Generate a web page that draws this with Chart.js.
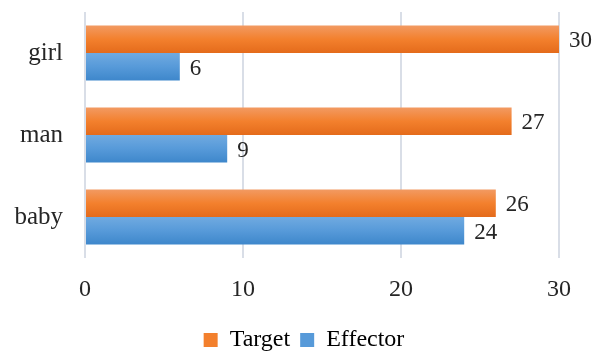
<!DOCTYPE html>
<html>
<head>
<meta charset="utf-8">
<script src="https://cdn.jsdelivr.net/npm/chart.js@4/dist/chart.umd.min.js"></script>
<style>
  html, body { margin: 0; padding: 0; background: #fff; }
  #wrap { width: 592px; height: 354px; }
</style>
</head>
<body>
<div id="wrap"><canvas id="grafico"></canvas></div>
<script>
const categorias = ['girl', 'man', 'baby'];
const target = [30, 27, 26];
const effector = [6, 9, 24];
const ticksX = [0, 10, 20, 30];

const FONTE = '"Liberation Serif", "DejaVu Serif", serif';
const OCUPACAO = 0.67;

// degradê vertical por barra (claro em cima, escuro embaixo)
function degrade(ctx, cores, serie) {
    const chart = ctx.chart;
    const y = chart.scales.y;
    if (!y || ctx.type !== 'data') return cores[1];
    const centro = y.getPixelForValue(ctx.dataIndex);
    const h = (y.getPixelForValue(1) - y.getPixelForValue(0)) * OCUPACAO / 2;
    const topo = serie === 0 ? centro - h : centro;
    const g = chart.ctx.createLinearGradient(0, topo, 0, topo + h);
    g.addColorStop(0, cores[0]);
    g.addColorStop(0.5, cores[1]);
    g.addColorStop(1, cores[2]);
    return g;
}

const coresLaranja = ['#F29A62', '#F3802D', '#E46B1B'];
const coresAzul = ['#70AAE0', '#579AD9', '#3E87CB'];

// rótulos de valor na ponta de cada barra
const rotulos = {
    id: 'rotulos',
    afterDatasetsDraw(chart) {
        const c = chart.ctx;
        c.save();
        c.font = '23px ' + FONTE;
        c.fillStyle = '#262626';
        c.textAlign = 'left';
        c.textBaseline = 'middle';
        chart.data.datasets.forEach((ds, i) => {
            chart.getDatasetMeta(i).data.forEach((bar, j) => {
                c.fillText(ds.data[j], bar.x + 10, bar.y + 2);
            });
        });
        c.restore();
    }
};

// centraliza a legenda na largura toda do canvas
const legendaCentro = {
    id: 'legendaCentro',
    afterLayout(chart) {
        const lg = chart.legend;
        if (!lg) return;
        const desloc = (chart.width - (lg.left + lg.right)) / 2 + 8;
        lg.left += desloc;
        lg.right += desloc;
    }
};

new Chart(document.getElementById('grafico').getContext('2d'), {
    type: 'bar',
    data: {
        labels: categorias,
        datasets: [
            {
                label: 'Target',
                data: target,
                barPercentage: 1,
                categoryPercentage: OCUPACAO,
                backgroundColor: ctx => degrade(ctx, coresLaranja, 0)
            },
            {
                label: 'Effector',
                data: effector,
                barPercentage: 1,
                categoryPercentage: OCUPACAO,
                backgroundColor: ctx => degrade(ctx, coresAzul, 1)
            }
        ]
    },
    options: {
        indexAxis: 'y',
        responsive: true,
        maintainAspectRatio: false,
        animation: false,
        layout: { padding: { top: 12, right: 33, left: 0, bottom: -8 } },
        scales: {
            x: {
                min: 0,
                max: 30,
                afterBuildTicks: s => { s.ticks = ticksX.map(v => ({ value: v })); },
                grid: { color: '#D9DEE7', lineWidth: 2, drawTicks: false },
                border: { display: false },
                ticks: { color: '#262626', font: { family: FONTE, size: 24 }, padding: 17 },
                afterFit: s => { s.height = 60; }
            },
            y: {
                grid: { display: false, drawTicks: false },
                border: { display: false },
                ticks: { color: '#262626', font: { family: FONTE, size: 25 }, padding: 22 },
                afterFit: s => { s.width = 85; s.paddingTop = 0; s.paddingBottom = 0; }
            }
        },
        plugins: {
            legend: {
                position: 'bottom',
                labels: {
                    color: '#262626',
                    font: { family: FONTE, size: 24 },
                    boxWidth: 14,
                    boxHeight: 14,
                    padding: 10,
                    generateLabels: chart => chart.data.datasets.map((ds, i) => ({
                        text: ds.label,
                        fillStyle: (i === 0 ? coresLaranja : coresAzul)[1],
                        strokeStyle: 'rgba(0,0,0,0)',
                        lineWidth: 0,
                        datasetIndex: i
                    }))
                }
            },
            tooltip: { enabled: false }
        }
    },
    plugins: [rotulos, legendaCentro]
});
</script>
</body>
</html>
